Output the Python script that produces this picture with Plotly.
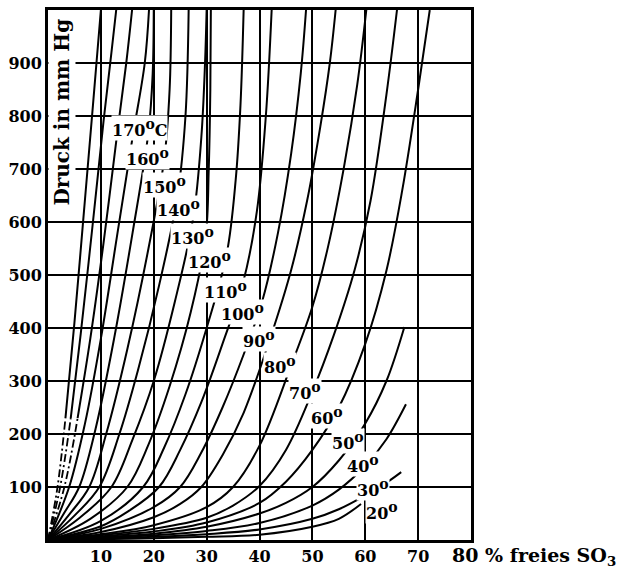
import plotly.graph_objects as go

# Isotherms: vapour pressure (mm Hg) over oleum vs. % free SO3
temps = [20, 30, 40, 50, 60, 70, 80, 90, 100, 110, 120, 130, 140, 150, 160, 170]

x_20 = [0, 10, 20, 30, 40, 50, 55, 59.2]
y_20 = [0, 1.5, 3.5, 6, 10, 25, 40, 68]
x_30 = [0, 10, 20, 30, 40, 50, 55, 60, 64, 66.8]
y_30 = [0, 2.5, 6, 11, 20, 40, 58, 84, 108, 128]
x_40 = [0, 10, 20, 30, 40, 50, 55, 60, 64, 67.7]
y_40 = [0, 4, 9, 17, 32, 65, 95, 140, 190, 256]
x_50 = [0, 10, 20, 30, 40, 45, 50, 55, 60, 64, 67.4]
y_50 = [0, 5, 12, 25, 50, 70, 100, 150, 220, 300, 402]
x_60 = [0, 10, 20, 30, 40, 45, 50, 55, 60, 64, 67, 70, 72.2]
y_60 = [0, 7, 16, 33, 70, 110, 170, 250, 370, 508, 660, 850, 1000]
x_70 = [0, 10, 20, 30, 35, 40, 45, 50, 54, 58, 61, 64, 66]
y_70 = [0, 9, 21, 42, 65, 102, 170, 280, 385, 510, 640, 840, 1000]
x_80 = [0, 10, 20, 30, 35, 40, 46, 50, 53, 56, 58.5, 60.2]
y_80 = [0, 11, 28, 62, 100, 178, 330, 440, 555, 705, 860, 1000]
x_90 = [0, 10, 20, 25, 29, 33, 37, 42, 46, 49, 51.5, 53.3, 54.4]
y_90 = [0, 15, 43, 68, 100, 160, 240, 380, 510, 640, 780, 900, 1000]
x_100 = [0, 10, 20, 25, 29, 33, 37, 40.5, 43.5, 46, 47.8, 48.8]
y_100 = [0, 21, 62, 100, 165, 250, 350, 450, 580, 730, 880, 1000]
x_110 = [0, 10, 15, 21, 25, 29, 33, 37, 39.5, 41.2, 42.3]
y_110 = [0, 26, 53, 100, 170, 260, 370, 490, 620, 800, 1000]
x_120 = [0, 10, 18, 22, 26, 30, 33.8, 35.5, 36.4, 37]
y_120 = [0, 36, 100, 175, 275, 400, 540, 680, 820, 1000]
x_130 = [0, 8, 15, 19, 23, 27, 29.8, 30.4, 30.7, 30.8]
y_130 = [0, 40, 100, 180, 290, 430, 570, 700, 850, 1000]
x_140 = [0, 6, 12, 16, 20, 24, 27.5, 29, 29.7, 30]
y_140 = [0, 42, 100, 190, 300, 450, 610, 760, 900, 1000]
x_150 = [0, 5, 9.7, 13.5, 17, 21, 24.5, 26, 26.6]
y_150 = [0, 46, 100, 200, 320, 480, 650, 800, 1000]
x_160 = [0, 4, 7.8, 11, 15, 19, 22, 23, 23.3]
y_160 = [0, 48, 100, 200, 360, 550, 720, 850, 1000]
x_170 = [0, 3, 5.9, 9, 12.5, 16, 19, 19.8, 20]
y_170 = [0, 50, 100, 210, 380, 580, 770, 880, 1000]

# steeper unlabeled isotherms towards the pressure axis;
# the last three are dash-dotted below about 230 mm Hg
x_e1 = [0, 4, 7, 10, 13, 16, 18.3, 19.1]
y_e1 = [0, 100, 220, 380, 570, 760, 900, 1000]
x_e2 = [0, 3.1, 5.6, 8, 10.5, 13, 14.8, 15.9]
y_e2 = [0, 100, 230, 380, 560, 760, 900, 1000]
x_e3 = [0, 2.3, 4.3, 6.2, 8.5, 10.5, 12, 12.9]
y_e3 = [0, 100, 230, 390, 600, 790, 920, 1000]
x_e4 = [0, 1.8, 3.3, 5, 6.8, 8.5, 10]
y_e4 = [0, 100, 230, 410, 620, 820, 1000]
dash_end = 2  # index of the 230 mm Hg point where the dash-dot part ends

solid = [
    (x_20, y_20), (x_30, y_30), (x_40, y_40), (x_50, y_50),
    (x_60, y_60), (x_70, y_70), (x_80, y_80), (x_90, y_90),
    (x_100, y_100), (x_110, y_110), (x_120, y_120), (x_130, y_130),
    (x_140, y_140), (x_150, y_150), (x_160, y_160), (x_170, y_170),
    (x_e1, y_e1),
]
split = [(x_e2, y_e2), (x_e3, y_e3), (x_e4, y_e4)]

# label positions (left edge / bottom of the number) along the diagonal band
label_x = [59.9, 58.2, 56.3, 53.5, 49.5, 45.4, 40.6, 36.6, 32.5, 29.3, 26.2, 23.1, 20.5, 17.7, 14.6, 12.0]
label_y = [31, 74, 119, 162, 209, 256, 306, 355, 405, 448, 503, 550, 602, 645, 699, 752]

y_ticks = [100, 200, 300, 400, 500, 600, 700, 800, 900]
x_ticks = [10, 20, 30, 40, 50, 60, 70]

FONT = "DejaVu Serif"
INK = "black"
SOLID = dict(color=INK, width=2, shape="spline", smoothing=1.0)
DASHDOT = dict(color=INK, width=1.8, dash="8px,3px,2px,3px", shape="spline", smoothing=1.0)

fig = go.Figure()


def add_line(xs, ys, style):
    fig.add_trace(go.Scatter(x=xs, y=ys, mode="lines", line=style,
                             hoverinfo="skip", showlegend=False))


for xs, ys in solid:
    add_line(xs, ys, SOLID)
for xs, ys in split:
    add_line(xs[:dash_end + 1], ys[:dash_end + 1], DASHDOT)
    add_line(xs[dash_end:], ys[dash_end:], SOLID)

DEG = "<sup><span style='font-size:14px'>o</span></sup>"

annotations = []
for t, lx, ly in zip(temps, label_x, label_y):
    txt = f"<b>{t}{DEG}" + ("C" if t == 170 else "") + "</b>"
    annotations.append(dict(x=lx, y=ly, xref="x", yref="y", text=txt, showarrow=False,
                            xanchor="left", yanchor="bottom", bgcolor="white", borderpad=0,
                            font=dict(family=FONT, size=16, color=INK)))

annotations.append(dict(x=2.7, y=807, xref="x", yref="y", text="<b>Druck in mm Hg</b>",
                        textangle=-90, showarrow=False, xanchor="center", yanchor="middle",
                        bgcolor="white", borderpad=1,
                        font=dict(family=FONT, size=20, color=INK)))
annotations.append(dict(x=76.0, y=-0.004, xref="x", yref="paper",
                        text="<b>80 % freies SO<sub>3</sub></b>", showarrow=False,
                        xanchor="left", yanchor="top",
                        font=dict(family=FONT, size=19, color=INK)))

tickfont = dict(family=FONT, size=16, color=INK)
fig.update_layout(
    width=621, height=573,
    margin=dict(l=48, r=150, t=7, b=32),
    paper_bgcolor="white", plot_bgcolor="white",
    annotations=annotations,
    xaxis=dict(range=[0, 80], tickvals=x_ticks, ticktext=[f"<b>{v}</b>" for v in x_ticks],
               showgrid=True, gridcolor=INK, gridwidth=1.5, zeroline=False,
               showline=True, linecolor=INK, linewidth=3, mirror=True, ticks="",
               tickfont=tickfont),
    yaxis=dict(range=[0, 1000], tickvals=y_ticks, ticktext=[f"<b>{v}</b>" for v in y_ticks],
               showgrid=True, gridcolor=INK, gridwidth=1.5, zeroline=False,
               showline=True, linecolor=INK, linewidth=3, mirror=True, ticks="",
               tickfont=tickfont),
)

fig.write_html("out.html")
